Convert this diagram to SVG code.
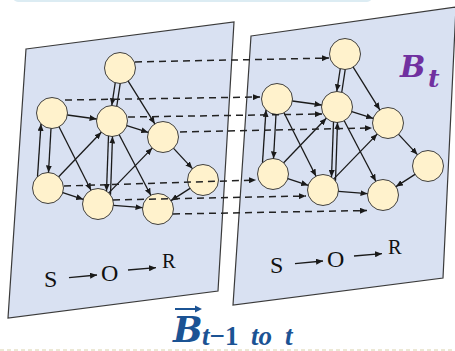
<svg xmlns="http://www.w3.org/2000/svg" width="455" height="351" viewBox="0 0 455 351">
<defs>
<style>
.panel{fill:#d9e1f2;stroke:#3a3a3a;stroke-width:1.2}
.node circle{fill:#fff2cc;stroke:#404040;stroke-width:1}
.e{fill:none;stroke:#1a1a1a;stroke-width:1.3;marker-end:url(#ah)}
.ln{fill:none;stroke:#1a1a1a;stroke-width:1.3}
.d{fill:none;stroke:#222;stroke-width:1.5;stroke-dasharray:7 5;marker-end:url(#ah)}
.sor{font-family:"Liberation Serif",serif;fill:#111}
.math{font-family:"DejaVu Serif",serif;font-weight:bold;font-style:italic}
.sub{font-family:"Liberation Serif",serif;font-weight:bold;font-style:italic;font-size:27px}
</style>
<marker id="ah" markerUnits="userSpaceOnUse" markerWidth="8" markerHeight="6" refX="7" refY="3" orient="auto">
<path d="M0,0 L7,3 L0,6 z" fill="#1a1a1a"/>
</marker>
</defs>
<rect x="13" y="-10" width="359" height="12" rx="5" fill="#dcecf3"/>
<line x1="0" y1="350" x2="455" y2="350" stroke="#d9d0aa" stroke-width="1" stroke-dasharray="4 3"/>
<polygon id="panel-left" class="panel" points="26,49 234,22 218,291 8,318"/>
<polygon id="panel-right" class="panel" points="251,36 456,7 443,278 233,305"/>
<g id="nodes-left">
<g id="A1" class="node"><circle cx="120" cy="68" r="15.5"/></g>
<g id="B1" class="node"><circle cx="52" cy="113" r="15.5"/></g>
<g id="C1" class="node"><circle cx="112" cy="121" r="15.5"/></g>
<g id="D1" class="node"><circle cx="163" cy="137" r="15.5"/></g>
<g id="E1" class="node"><circle cx="203" cy="180" r="15.5"/></g>
<g id="F1" class="node"><circle cx="48" cy="188" r="15.5"/></g>
<g id="G1" class="node"><circle cx="98" cy="204" r="15.5"/></g>
<g id="H1" class="node"><circle cx="158" cy="209" r="15.5"/></g>
</g>
<g id="nodes-right" transform="translate(225,-14)">
<g id="A2" class="node"><circle cx="120" cy="68" r="15.5"/></g>
<g id="B2" class="node"><circle cx="52" cy="113" r="15.5"/></g>
<g id="C2" class="node"><circle cx="112" cy="121" r="15.5"/></g>
<g id="D2" class="node"><circle cx="163" cy="137" r="15.5"/></g>
<g id="E2" class="node"><circle cx="203" cy="180" r="15.5"/></g>
<g id="F2" class="node"><circle cx="48" cy="188" r="15.5"/></g>
<g id="G2" class="node"><circle cx="98" cy="204" r="15.5"/></g>
<g id="H2" class="node"><circle cx="158" cy="209" r="15.5"/></g>
</g>
<g id="connectors">
<g id="edges-left">
<path class="e" d="M115.2,83 L111.8,105.3"/>
<path class="ln" d="M116.8,106 L120.2,83.7"/>
<path class="e" d="M128.2,81.2 L154.8,123.8"/>
<path class="e" d="M67.4,115 L96.6,119"/>
<path class="e" d="M126.8,125.6 L148.2,132.4"/>
<path class="e" d="M51,128.5 L48.5,172.5"/>
<path class="e" d="M37.5,176.6 L41,123.9"/>
<path class="e" d="M59,126.8 L91,190.2"/>
<path class="e" d="M58.7,176.8 L101.3,132.2"/>
<path class="e" d="M173.6,148.4 L192.4,168.6"/>
<path class="e" d="M119.2,134.7 L150.8,195.3"/>
<path class="e" d="M108.5,136.1 L106.5,191"/>
<path class="e" d="M110.5,194.8 L112.5,136.5"/>
<path class="e" d="M108.8,192.9 L152.2,148.1"/>
<path class="e" d="M62.8,192.7 L83.2,199.3"/>
<path class="e" d="M113.5,205.3 L142.5,207.7"/>
<path class="e" d="M190,188.4 L171,200.6"/>
</g>
<g id="edges-right" transform="translate(225,-14)">
<path class="e" d="M115.2,83 L111.8,105.3"/>
<path class="ln" d="M116.8,106 L120.2,83.7"/>
<path class="e" d="M128.2,81.2 L154.8,123.8"/>
<path class="e" d="M67.4,115 L96.6,119"/>
<path class="e" d="M126.8,125.6 L148.2,132.4"/>
<path class="e" d="M51,128.5 L48.5,172.5"/>
<path class="e" d="M37.5,176.6 L41,123.9"/>
<path class="e" d="M59,126.8 L91,190.2"/>
<path class="e" d="M58.7,176.8 L101.3,132.2"/>
<path class="e" d="M173.6,148.4 L192.4,168.6"/>
<path class="e" d="M119.2,134.7 L150.8,195.3"/>
<path class="e" d="M108.5,136.1 L106.5,191"/>
<path class="e" d="M110.5,194.8 L112.5,136.5"/>
<path class="e" d="M108.8,192.9 L152.2,148.1"/>
<path class="e" d="M62.8,192.7 L83.2,199.3"/>
<path class="e" d="M113.5,205.3 L142.5,207.7"/>
<path class="e" d="M190,188.4 L171,200.6"/>
</g>
<g id="edges-between">
<path class="d" d="M135,62 L329,58"/>
<path class="d" d="M65,100 L260,97"/>
<path class="d" d="M128,117 L322,114"/>
<path class="d" d="M180,132 L372,128"/>
<path class="d" d="M64,186 L256,180"/>
<path class="d" d="M113,200 L306,196"/>
<path class="d" d="M173,214 L367,210.5"/>
</g>
</g>
<g id="sor-left" class="sor">
<text x="44" y="287" font-size="24">S</text>
<path class="e" d="M69,277.7 L97,275"/>
<text x="101" y="280.5" font-size="24">O</text>
<path class="e" d="M128,270 L156,267.7"/>
<text x="162" y="268" font-size="20.5">R</text>
</g>
<g id="sor-right" class="sor" transform="translate(226,-14)">
<text x="44" y="287" font-size="24">S</text>
<path class="e" d="M69,277.7 L97,275"/>
<text x="101" y="280.5" font-size="24">O</text>
<path class="e" d="M128,270 L156,267.7"/>
<text x="162" y="268" font-size="20.5">R</text>
</g>
<g id="label-bt" class="math" fill="#7030a0">
<text x="400" y="77" font-size="30">B</text>
<text x="428" y="87" font-size="25">t</text>
</g>
<g id="label-bottom" fill="#1b5394">
<line x1="175" y1="309" x2="197" y2="309" stroke="#1b5394" stroke-width="2"/>
<path d="M195,305.5 L202,309 L195,312.5 z" fill="#1b5394"/>
<text class="math" x="173" y="342" font-size="35">B</text>
<text class="sub" x="202" y="345">t<tspan font-style="normal">−1</tspan></text>
<text class="sub" x="251" y="345">to</text>
<text class="sub" x="285" y="345">t</text>
</g>
</svg>
